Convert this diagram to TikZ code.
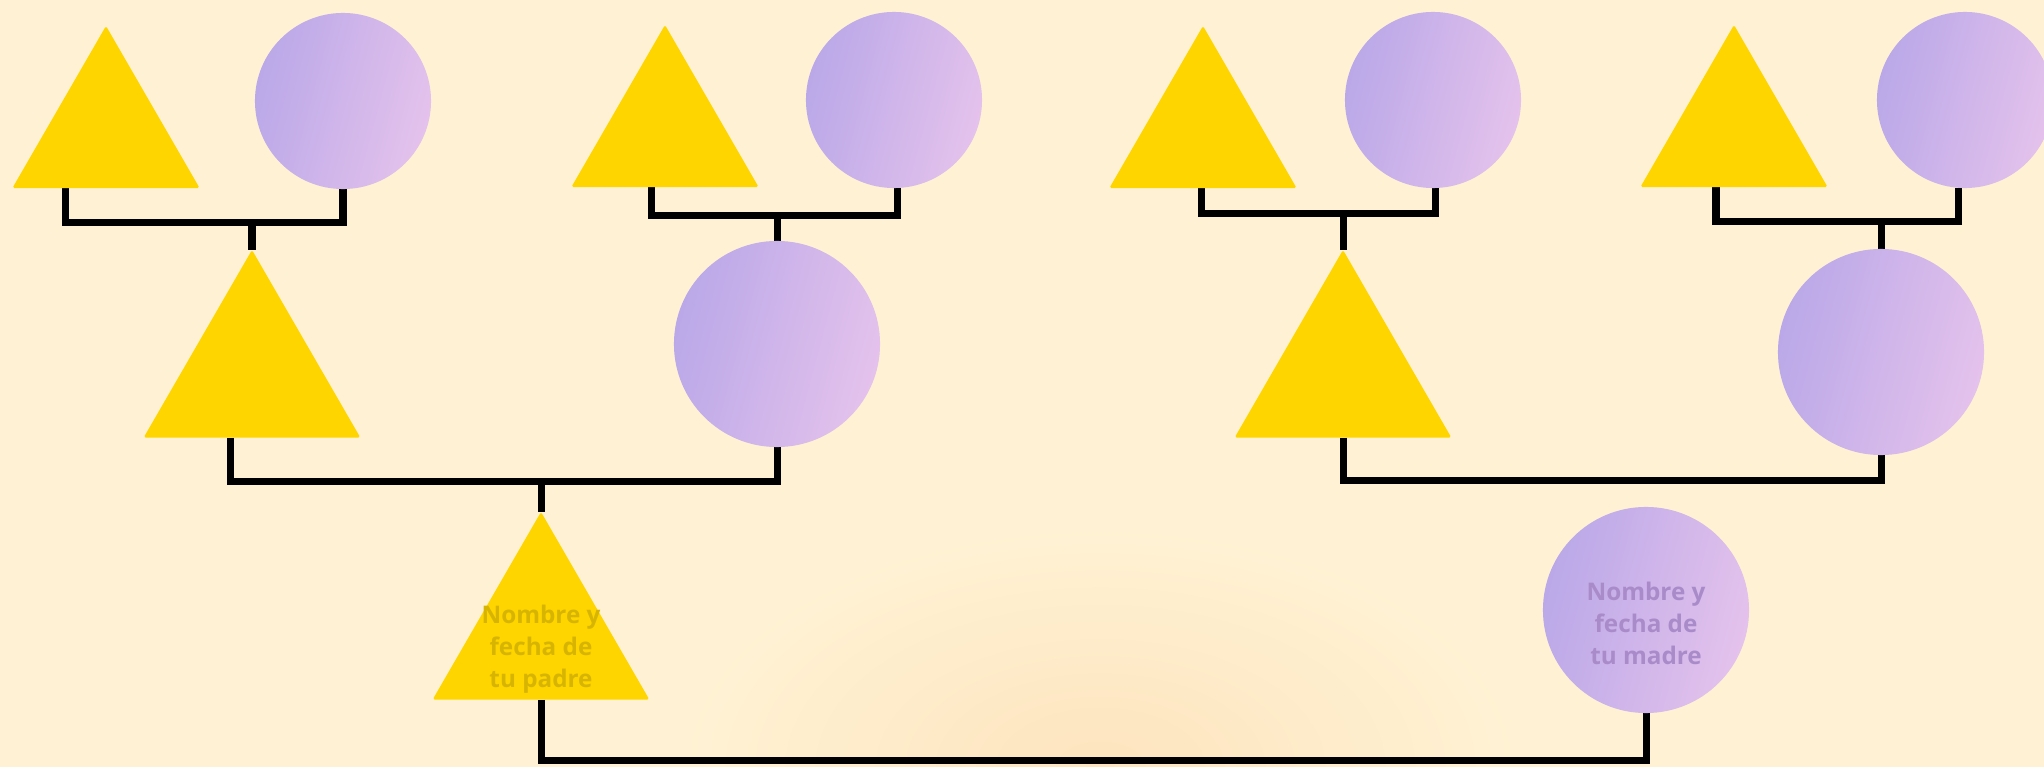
\documentclass[tikz,border=0pt]{standalone}
\usepackage{fontspec}
\newfontfamily\treefont{Open Sans}
\usepackage{tikz}
\usetikzlibrary{shapes.geometric,backgrounds}
\definecolor{TreeCream}{HTML}{FFF2D4}
\definecolor{TreeGlow}{HTML}{FDE4BE}
\definecolor{TreeGold}{HTML}{FFD500}
\definecolor{TreeGoldText}{HTML}{D6B400}
\definecolor{TreeLilacL}{HTML}{BAA8E8}
\definecolor{TreeLilacM}{HTML}{D39EEB}
\definecolor{TreeLilacR}{HTML}{E4C2EC}
\definecolor{TreeLilacText}{HTML}{A98BC9}

\begin{document}
\begin{tikzpicture}[x=0.01cm, y=-0.01cm, male/.style={regular polygon,regular polygon sides=3,fill=TreeGold,inner sep=0pt,outer sep=0pt,rounded corners=0.5pt}, female/.style={circle,left color=TreeLilacL,middle color=TreeLilacM,right color=TreeLilacR,shading angle=75,inner sep=0pt,outer sep=0pt}, gen1/.style={minimum size=2.16cm}, gen2/.style={minimum size=2.5cm}, gen1c/.style={minimum size=1.76cm}, gen2c/.style={minimum size=2.06cm}, link/.style={line width=0.07cm,line join=miter,draw=black}, txtpadre/.style={font=\treefont\bfseries\fontsize{6.9}{9.1}\selectfont,text=TreeGoldText,align=center,yshift=-0.12cm}, txtmadre/.style={font=\treefont\bfseries\fontsize{6.9}{9.1}\selectfont,text=TreeLilacText,align=center,yshift=-0.13cm}]
\useasboundingbox (0,0) rectangle (2044,767);
% abuelos y bisabuelos
\node[male,gen1] (t1) at (106,134) {};
\node[female,gen1c] (c1) at (343,101) {};
\node[male,gen1] (t2) at (665,133) {};
\node[female,gen1c] (c2) at (894,100) {};
\node[male,gen1] (t3) at (1203,134) {};
\node[female,gen1c] (c3) at (1433,100) {};
\node[male,gen1] (t4) at (1734,133) {};
\node[female,gen1c] (c4) at (1965,100) {};
\node[male,gen2] (t5) at (252,375) {};
\node[female,gen2c] (c5) at (777,344) {};
\node[male,gen2] (t6) at (1343,375) {};
\node[female,gen2c] (c6) at (1881,352) {};
% padres
\node[male,gen2,label={[txtpadre]center:Nombre y\\fecha de\\tu padre}] (t7) at (541,637) {};
\node[female,gen2c,label={[txtmadre]center:Nombre y\\fecha de\\tu madre}] (c7) at (1646,610) {};
\begin{scope}[on background layer]
\fill[TreeCream] (0,0) rectangle (2044,767);
\begin{scope}
\clip (0,0) rectangle (2044,767);
\shade[inner color=TreeGlow,outer color=TreeCream] (1100,767) ellipse (420 and 240);
\end{scope}
\draw[link] ([xshift=-0.4cm]t1.south) -- ++(0,34) coordinate (h1) -| (c1.south);
\draw[link] (t5.north) -- (t5.north |- h1);
\draw[link] ([xshift=-0.13cm]t2.south) -- ++(0,28) coordinate (h2) -| ([xshift=0.03cm]c2.south);
\draw[link] (c5.north) -- (c5.north |- h2);
\draw[link] ([xshift=-0.02cm]t3.south) -- ++(0,25) coordinate (h3) -| ([xshift=0.02cm]c3.south);
\draw[link] (t6.north) -- (t6.north |- h3);
\draw[link] ([xshift=-0.18cm]t4.south) -- ++(0,34) coordinate (h4) -| ([xshift=-0.07cm]c4.south);
\draw[link] (c6.north) -- (c6.north |- h4);
\draw[link] ([xshift=-0.21cm]t5.south) -- ++(0,44) coordinate (h5) -| (c5.south);
\draw[link] (t7.north) -- (t7.north |- h5);
\draw[link] (t6.south) -- ++(0,43) -| (c6.south);
\draw[link] (t7.south) -- ++(0,61) -| (c7.south);
\end{scope}
\end{tikzpicture}
\end{document}
